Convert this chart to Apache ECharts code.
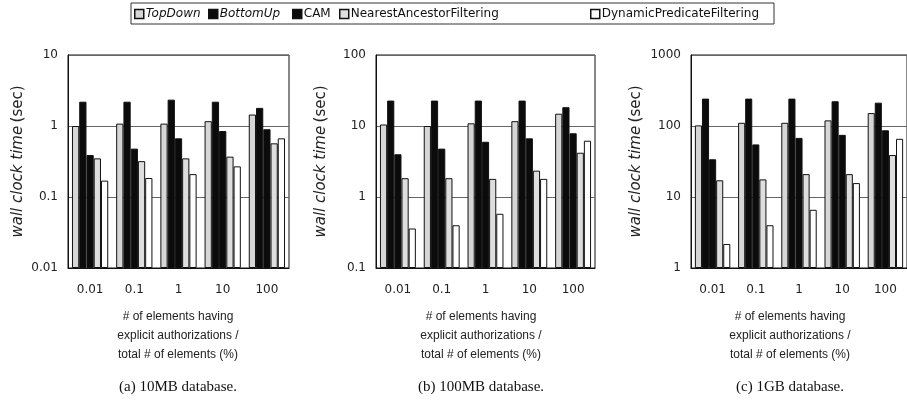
<!DOCTYPE html>
<html>
<head>
<meta charset="utf-8">
<script src="https://cdn.jsdelivr.net/npm/echarts@6/dist/echarts.min.js"></script>
<style>
  html, body { margin: 0; padding: 0; background: #fff; }
  #chart { width: 907px; height: 401px; }
</style>
</head>
<body>
<div id="chart"></div>
<script>
// x categories: % of elements with explicit authorizations
const categories = ['0.01', '0.1', '1', '10', '100'];
const seriesNames = ['TopDown', 'BottomUp', 'CAM', 'NearestAncestorFiltering', 'DynamicPredicateFiltering'];

// (a) 10MB database, seconds
const db10MB_TopDown   = [1.0, 1.08, 1.08, 1.17, 1.45];
const db10MB_BottomUp  = [2.2, 2.2, 2.35, 2.2, 1.8];
const db10MB_CAM       = [0.39, 0.48, 0.67, 0.85, 0.9];
const db10MB_Nearest   = [0.35, 0.32, 0.35, 0.37, 0.57];
const db10MB_Dynamic   = [0.17, 0.185, 0.21, 0.27, 0.67];

// (b) 100MB database
const db100MB_TopDown  = [10.5, 10.0, 10.9, 11.7, 14.9];
const db100MB_BottomUp = [22.8, 22.8, 22.8, 22.8, 18.4];
const db100MB_CAM      = [4.0, 4.8, 6.0, 6.7, 7.9];
const db100MB_Nearest  = [1.84, 1.84, 1.8, 2.35, 4.2];
const db100MB_Dynamic  = [0.36, 0.40, 0.58, 1.8, 6.2];

// (c) 1GB database
const db1GB_TopDown    = [102, 111, 111, 120, 152];
const db1GB_BottomUp   = [243, 243, 243, 223, 213];
const db1GB_CAM        = [34, 55, 68, 75, 87];
const db1GB_Nearest    = [17.2, 17.7, 21, 21, 39];
const db1GB_Dynamic    = [2.18, 4.0, 6.6, 15.7, 66];

const yRanges = [[0.01, 10], [0.1, 100], [1, 1000]];
const captions = ['(a) 10MB database.', '(b) 100MB database.', '(c) 1GB database.'];
const xTitle = '# of elements having\nexplicit authorizations /\ntotal # of elements (%)';

const panels = [
    [db10MB_TopDown, db10MB_BottomUp, db10MB_CAM, db10MB_Nearest, db10MB_Dynamic],
    [db100MB_TopDown, db100MB_BottomUp, db100MB_CAM, db100MB_Nearest, db100MB_Dynamic],
    [db1GB_TopDown, db1GB_BottomUp, db1GB_CAM, db1GB_Nearest, db1GB_Dynamic]
];

const fills = ['#d6d6d6', '#0b0b0b', '#0b0b0b', '#dedede', '#ffffff'];
const gridLeft = [68, 376, 691];
const gridWidth = [221, 219, 219];
const yNameGap = [42, 47, 47];
const panelCenter = [178, 481, 790];
const font = 'DejaVu Sans';

const grids = [], xAxes = [], yAxes = [], series = [], graphics = [];

panels.forEach(function (vals, p) {
    grids.push({
        left: gridLeft[p], top: 55, width: gridWidth[p], height: 213,
        show: true, borderColor: '#111', borderWidth: 1, backgroundColor: '#fff'
    });
    xAxes.push({
        type: 'category', gridIndex: p, data: categories,
        axisLine: { lineStyle: { color: '#111' } },
        axisTick: { show: false },
        axisLabel: { margin: 16, fontFamily: font, fontSize: 12, color: '#222' }
    });
    yAxes.push({
        type: 'log', logBase: 10, gridIndex: p,
        min: yRanges[p][0], max: yRanges[p][1], startValue: yRanges[p][0],
        name: '{i|wall clock time} {n|(sec)}',
        nameLocation: 'middle', nameGap: yNameGap[p],
        nameTextStyle: {
            rich: {
                i: { fontFamily: font, fontSize: 15, fontStyle: 'italic', color: '#222' },
                n: { fontFamily: font, fontSize: 15, color: '#222' }
            }
        },
        axisLine: { show: true, lineStyle: { color: '#111' } },
        axisTick: { show: false },
        axisLabel: {
            margin: 10, fontFamily: font, fontSize: 12, color: '#222',
            formatter: function (v) { return String(v); }
        },
        splitLine: { show: true, lineStyle: { color: '#666', width: 1 } }
    });
    vals.forEach(function (data, s) {
        series.push({
            type: 'bar', name: seriesNames[s],
            xAxisIndex: p, yAxisIndex: p, data: data,
            barGap: '0%', barCategoryGap: '18%',
            itemStyle: { color: fills[s], borderColor: '#111', borderWidth: 1 }
        });
    });
    graphics.push({
        type: 'text', x: panelCenter[p], y: 307,
        style: {
            text: xTitle, textAlign: 'center', textVerticalAlign: 'top',
            font: '12px "Liberation Sans"', fill: '#222', lineHeight: 19
        }
    });
    graphics.push({
        type: 'text', x: panelCenter[p], y: 387,
        style: {
            text: captions[p], textAlign: 'center', textVerticalAlign: 'middle',
            font: '15px "Liberation Serif"', fill: '#111'
        }
    });
});

// legend frame
graphics.push({
    type: 'rect',
    shape: { x: 131, y: 3, width: 643, height: 21 },
    style: { fill: 'none', stroke: '#333', lineWidth: 1 }
});

const legendLeft = [134, 208, 292, 339, 590];
const legends = seriesNames.map(function (n, i) {
    return {
        data: [n], left: legendLeft[i], top: 8, padding: 0,
        itemWidth: 9, itemHeight: 9, itemGap: 2,
        icon: 'rect',
        itemStyle: { borderColor: '#111', borderWidth: 1.5 },
        formatter: (i < 2 ? '{i|' + n + '}' : n),
        textStyle: {
            fontFamily: font, fontSize: 12, color: '#111', padding: [0, 0, 0, -3],
            rich: { i: { fontFamily: font, fontSize: 12, fontStyle: 'italic', color: '#111' } }
        },
        selectedMode: false
    };
});

const chart = echarts.init(document.getElementById('chart'), null, { renderer: 'canvas' });
chart.setOption({
    animation: false,
    backgroundColor: '#fff',
    legend: legends,
    grid: grids,
    xAxis: xAxes,
    yAxis: yAxes,
    series: series,
    graphic: graphics
});
</script>
</body>
</html>
